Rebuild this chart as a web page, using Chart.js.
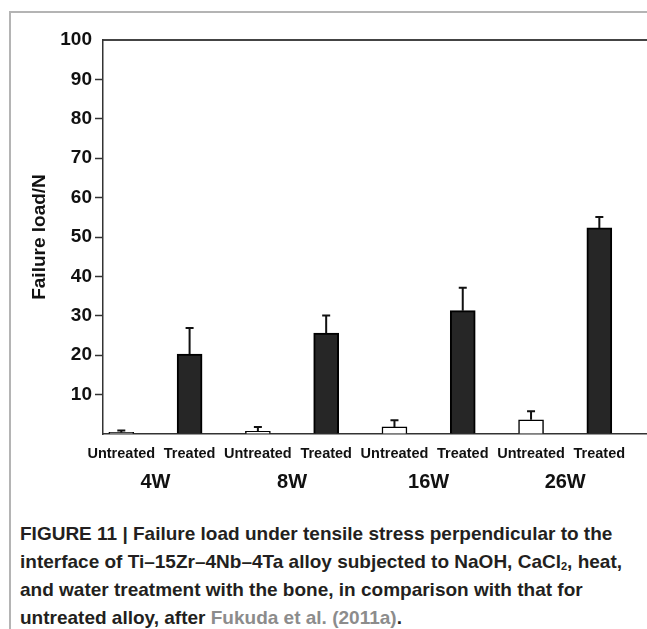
<!DOCTYPE html>
<html><head><meta charset="utf-8">
<script src="https://cdn.jsdelivr.net/npm/chart.js@4.4.1/dist/chart.umd.min.js"></script>
<style>
html,body{margin:0;padding:0;background:#fff;}
body{width:647px;height:629px;position:relative;overflow:hidden;font-family:"Liberation Sans",Arial,sans-serif;}
#frame{position:absolute;left:9px;top:11px;width:700px;height:700px;border-top:2px solid #b4b4b4;border-left:2px solid #b4b4b4;}
#wrap{position:absolute;left:0;top:0;width:647px;height:500px;}
#cap{position:absolute;left:20px;top:520px;font-weight:bold;font-size:19px;line-height:28px;color:#231f20;white-space:nowrap;}
#cap .ref{color:#8c8c8c;}
#cap .sub{font-size:11px;vertical-align:-2px;line-height:0;}
</style></head><body>
<div id="frame"></div>
<div id="wrap"><canvas id="c" width="647" height="500"></canvas></div>
<div id="cap">FIGURE 11 | Failure load under tensile stress perpendicular to the<br>interface of Ti–15Zr–4Nb–4Ta alloy subjected to NaOH, CaCl<span class="sub">2</span>, heat,<br>and water treatment with the bone, in comparison with that for<br>untreated alloy, after <span class="ref">Fukuda et al. (2011a)</span>.</div>
<script>
const groups = ['4W', '8W', '16W', '26W'];
const barLabels = ['Untreated', 'Treated', 'Untreated', 'Treated', 'Untreated', 'Treated', 'Untreated', 'Treated'];
const untreated = [0.4, 0.7, 1.8, 3.6];
const untreatedErr = [0.5, 1.1, 1.7, 2.2];
const treated = [20.3, 25.6, 31.3, 52.3];
const treatedErr = [6.6, 4.5, 5.8, 2.8];
const yMin = 0, yMax = 100, yStep = 10;

Chart.defaults.font.family = '"Liberation Sans", Arial, sans-serif';
Chart.defaults.color = '#111';

const errorBars = {
  id: 'errorBars',
  afterDatasetsDraw(chart) {
    const ctx = chart.ctx, ys = chart.scales.y;
    chart.data.datasets.forEach((ds, di) => {
      const meta = chart.getDatasetMeta(di);
      meta.data.forEach((bar, i) => {
        const v = ds.data[i].y, e = ds.errors[i];
        const top = ys.getPixelForValue(v + e);
        ctx.save();
        ctx.strokeStyle = '#111';
        ctx.lineWidth = 2;
        ctx.beginPath();
        ctx.moveTo(bar.x, bar.y);
        ctx.lineTo(bar.x, top);
        ctx.moveTo(bar.x - 4, top);
        ctx.lineTo(bar.x + 4, top);
        ctx.stroke();
        ctx.restore();
      });
    });
  }
};

const xMin = -0.268, xMax = 7.698;

new Chart(document.getElementById('c'), {
  type: 'bar',
  data: {
    datasets: [
      {
        label: 'Untreated',
        data: untreated.map((v, i) => ({x: 2 * i, y: v})),
        errors: untreatedErr,
        backgroundColor: '#ffffff',
        borderColor: '#000000',
        borderWidth: 1.5,
        grouped: false,
        barThickness: 25
      },
      {
        label: 'Treated',
        data: treated.map((v, i) => ({x: 2 * i + 1, y: v})),
        errors: treatedErr,
        backgroundColor: '#262626',
        borderColor: '#000000',
        borderWidth: 2,
        grouped: false,
        barThickness: 25
      }
    ]
  },
  options: {
    responsive: false,
    animation: false,
    layout: {padding: {top: 40, left: 0, right: 0, bottom: 0}},
    plugins: {legend: {display: false}, tooltip: {enabled: false}},
    scales: {
      x: {
        type: 'linear', position: 'bottom', weight: 0,
        min: xMin, max: xMax, offset: false, bounds: 'data',
        grid: {display: false, drawTicks: false, tickLength: 0},
        border: {display: true, color: '#333', width: 1.5},
        afterBuildTicks: s => { s.ticks = barLabels.map((_, i) => ({value: i})); },
        afterFit: s => { s.height = 30; },
        ticks: {
          autoSkip: false, maxRotation: 0, padding: 11,
          font: {size: 14.5, weight: 'bold'}, color: '#111',
          callback: v => barLabels[v] ?? ''
        }
      },
      xGroup: {
        type: 'linear', position: 'bottom', weight: 1,
        min: xMin, max: xMax, offset: false, bounds: 'data',
        grid: {display: false, drawTicks: false, tickLength: 0},
        border: {display: false},
        afterBuildTicks: s => { s.ticks = groups.map((_, i) => ({value: 2 * i + 0.5})); },
        afterFit: s => { s.height = 36; },
        ticks: {
          autoSkip: false, maxRotation: 0, padding: 6,
          font: {size: 20, weight: 'bold'}, color: '#111',
          callback: v => groups[Math.floor(v / 2)] ?? ''
        }
      },
      xTop: {
        type: 'linear', position: 'top',
        min: xMin, max: xMax, offset: false, bounds: 'data',
        grid: {display: false, drawTicks: false},
        border: {display: true, color: '#444', width: 2},
        ticks: {display: false},
        afterFit: s => { s.height = 0; }
      },
      y: {
        type: 'linear', min: yMin, max: yMax,
        grid: {
          drawOnChartArea: false, tickLength: 8, tickWidth: 1.5,
          tickColor: c => (c.tick && (c.tick.value === 0 || c.tick.value === 100)) ? 'rgba(0,0,0,0)' : '#333'
        },
        border: {display: true, color: '#333', width: 1.5},
        afterFit: s => { s.width = 103; },
        title: {
          display: true, text: 'Failure load/N',
          font: {size: 19, weight: 'bold'}, color: '#111',
          padding: {top: 28, bottom: 0}
        },
        ticks: {
          stepSize: yStep, padding: 3,
          font: {size: 19, weight: 'bold'}, color: '#111',
          callback: v => v === 0 ? '' : v
        }
      }
    }
  },
  plugins: [errorBars]
});
</script>
</body></html>
